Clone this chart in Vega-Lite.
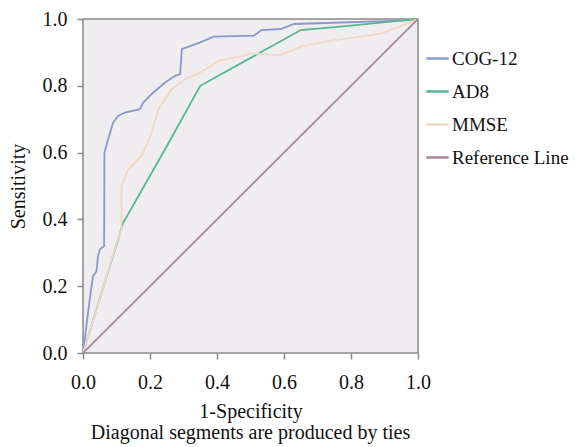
{
  "$schema": "https://vega.github.io/schema/vega-lite/v6.json",
  "width": 335,
  "height": 334,
  "autosize": {"type": "none"},
  "padding": {"left": 83, "top": 19, "right": 161, "bottom": 94},
  "background": "white",
  "config": {
    "font": "Liberation Serif",
    "view": {"fill": "#efedef", "stroke": "#8a8a8a", "strokeWidth": 1.5}
  },
  "title": {
    "text": "Diagonal segments are produced by ties",
    "orient": "bottom",
    "anchor": "middle",
    "font": "Liberation Serif",
    "fontSize": 20,
    "fontWeight": "normal",
    "color": "#111",
    "offset": 2
  },
  "data": {
    "values": [
      {"s": "COG-12", "i": 0, "x": 0, "y": 0},
      {"s": "COG-12", "i": 1, "x": 0.01, "y": 0.08},
      {"s": "COG-12", "i": 2, "x": 0.02, "y": 0.16},
      {"s": "COG-12", "i": 3, "x": 0.03, "y": 0.23},
      {"s": "COG-12", "i": 4, "x": 0.04, "y": 0.245},
      {"s": "COG-12", "i": 5, "x": 0.045, "y": 0.29},
      {"s": "COG-12", "i": 6, "x": 0.05, "y": 0.31},
      {"s": "COG-12", "i": 7, "x": 0.063, "y": 0.32},
      {"s": "COG-12", "i": 8, "x": 0.064, "y": 0.6},
      {"s": "COG-12", "i": 9, "x": 0.075, "y": 0.64},
      {"s": "COG-12", "i": 10, "x": 0.09, "y": 0.69},
      {"s": "COG-12", "i": 11, "x": 0.105, "y": 0.71},
      {"s": "COG-12", "i": 12, "x": 0.125, "y": 0.72},
      {"s": "COG-12", "i": 13, "x": 0.17, "y": 0.73},
      {"s": "COG-12", "i": 14, "x": 0.18, "y": 0.75},
      {"s": "COG-12", "i": 15, "x": 0.21, "y": 0.78},
      {"s": "COG-12", "i": 16, "x": 0.245, "y": 0.81},
      {"s": "COG-12", "i": 17, "x": 0.275, "y": 0.83},
      {"s": "COG-12", "i": 18, "x": 0.29, "y": 0.835},
      {"s": "COG-12", "i": 19, "x": 0.295, "y": 0.91},
      {"s": "COG-12", "i": 20, "x": 0.35, "y": 0.93},
      {"s": "COG-12", "i": 21, "x": 0.39, "y": 0.947},
      {"s": "COG-12", "i": 22, "x": 0.51, "y": 0.95},
      {"s": "COG-12", "i": 23, "x": 0.533, "y": 0.967},
      {"s": "COG-12", "i": 24, "x": 0.59, "y": 0.97},
      {"s": "COG-12", "i": 25, "x": 0.63, "y": 0.985},
      {"s": "COG-12", "i": 26, "x": 0.95, "y": 0.995},
      {"s": "COG-12", "i": 27, "x": 1, "y": 1},
      {"s": "AD8", "i": 0, "x": 0, "y": 0},
      {"s": "AD8", "i": 1, "x": 0.12, "y": 0.39},
      {"s": "AD8", "i": 2, "x": 0.245, "y": 0.61},
      {"s": "AD8", "i": 3, "x": 0.35, "y": 0.8},
      {"s": "AD8", "i": 4, "x": 0.65, "y": 0.967},
      {"s": "AD8", "i": 5, "x": 0.8, "y": 0.98},
      {"s": "AD8", "i": 6, "x": 0.946, "y": 0.995},
      {"s": "AD8", "i": 7, "x": 1, "y": 1},
      {"s": "MMSE", "i": 0, "x": 0, "y": 0},
      {"s": "MMSE", "i": 1, "x": 0.05, "y": 0.16},
      {"s": "MMSE", "i": 2, "x": 0.1, "y": 0.33},
      {"s": "MMSE", "i": 3, "x": 0.115, "y": 0.37},
      {"s": "MMSE", "i": 4, "x": 0.115, "y": 0.5},
      {"s": "MMSE", "i": 5, "x": 0.135, "y": 0.55},
      {"s": "MMSE", "i": 6, "x": 0.175, "y": 0.59},
      {"s": "MMSE", "i": 7, "x": 0.205, "y": 0.66},
      {"s": "MMSE", "i": 8, "x": 0.225, "y": 0.73},
      {"s": "MMSE", "i": 9, "x": 0.265, "y": 0.79},
      {"s": "MMSE", "i": 10, "x": 0.305, "y": 0.82},
      {"s": "MMSE", "i": 11, "x": 0.35, "y": 0.84},
      {"s": "MMSE", "i": 12, "x": 0.41, "y": 0.877},
      {"s": "MMSE", "i": 13, "x": 0.47, "y": 0.887},
      {"s": "MMSE", "i": 14, "x": 0.5, "y": 0.897},
      {"s": "MMSE", "i": 15, "x": 0.59, "y": 0.892},
      {"s": "MMSE", "i": 16, "x": 0.65, "y": 0.917},
      {"s": "MMSE", "i": 17, "x": 0.75, "y": 0.937},
      {"s": "MMSE", "i": 18, "x": 0.83, "y": 0.947},
      {"s": "MMSE", "i": 19, "x": 0.89, "y": 0.957},
      {"s": "MMSE", "i": 20, "x": 0.946, "y": 0.977},
      {"s": "MMSE", "i": 21, "x": 1, "y": 1},
      {"s": "Reference Line", "i": 0, "x": 0, "y": 0},
      {"s": "Reference Line", "i": 1, "x": 1, "y": 1}
    ]
  },
  "mark": {"type": "line", "strokeWidth": 1.8, "clip": true},
  "encoding": {
    "x": {
      "field": "x", "type": "quantitative",
      "scale": {"domain": [0, 1], "nice": false},
      "axis": {
        "values": [0, 0.2, 0.4, 0.6, 0.8, 1],
        "format": ".1f",
        "grid": false,
        "domain": false,
        "tickColor": "#8a8a8a", "tickWidth": 1.5, "tickSize": 6,
        "labelFontSize": 20, "labelColor": "#111", "labelPadding": 13,
        "labelFlush": false,
        "title": "1-Specificity",
        "titleFont": "Liberation Serif", "titleFontWeight": "normal",
        "titleFontSize": 20, "titleColor": "#111",
        "titlePadding": 9
      }
    },
    "y": {
      "field": "y", "type": "quantitative",
      "scale": {"domain": [0, 1], "nice": false},
      "axis": {
        "values": [0, 0.2, 0.4, 0.6, 0.8, 1],
        "format": ".1f",
        "grid": false,
        "domain": false,
        "tickColor": "#8a8a8a", "tickWidth": 1.5, "tickSize": 6,
        "labelFontSize": 20, "labelColor": "#111", "labelPadding": 10,
        "labelFlush": false,
        "title": "Sensitivity",
        "titleFont": "Liberation Serif", "titleFontWeight": "normal",
        "titleFontSize": 20, "titleColor": "#111", "titlePadding": 14
      }
    },
    "color": {
      "field": "s", "type": "nominal",
      "scale": {
        "domain": ["COG-12", "AD8", "MMSE", "Reference Line"],
        "range": ["#8c98c9", "#55b890", "#efd8c6", "#a4889f"]
      },
      "legend": {
        "title": null,
        "orient": "none",
        "legendX": 342,
        "legendY": 27,
        "symbolType": "stroke",
        "symbolSize": 500,
        "symbolStrokeWidth": 2.5,
        "labelFontSize": 19,
        "labelColor": "#111",
        "labelOffset": 2,
        "rowPadding": 10
      }
    },
    "order": {"field": "i", "type": "quantitative"}
  }
}
